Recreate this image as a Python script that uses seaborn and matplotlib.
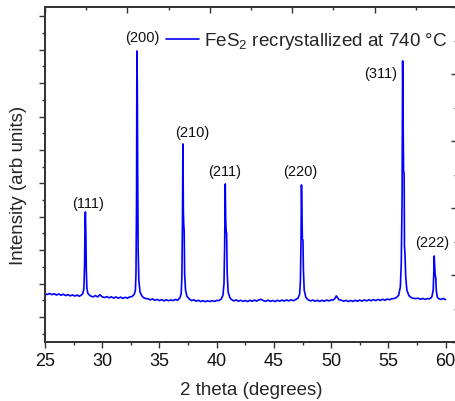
import matplotlib
matplotlib.use("Agg")
import matplotlib.pyplot as plt
from matplotlib.ticker import MultipleLocator, NullFormatter
import seaborn as sns

sns.set_style("ticks")
plt.rcParams["font.family"] = ["Liberation Sans", "DejaVu Sans"]
plt.rcParams["mathtext.fontset"] = "custom"
plt.rcParams["mathtext.rm"] = "Liberation Sans"
plt.rcParams["mathtext.it"] = "Liberation Sans:italic"

# ------------------------------------------------------
# Data
# ------------------------------------------------------

two_theta = [
    25.0, 25.2, 25.4, 25.6, 25.8, 26.0, 26.2, 26.4, 26.6, 26.8, 27.0, 27.2, 27.4, 27.6, 27.8, 28.0, 28.2,
    28.3, 28.4, 28.46, 28.5, 28.53, 28.57, 28.61, 28.66, 28.75, 28.9,
    29.0, 29.2, 29.4, 29.6, 29.8, 29.9, 30.0, 30.2, 30.4, 30.6, 30.8, 31.0, 31.2, 31.4, 31.6, 31.8,
    32.0, 32.2, 32.4, 32.6, 32.8,
    32.9, 32.95, 33.0, 33.03, 33.07, 33.1, 33.14, 33.2, 33.3, 33.45,
    33.6, 33.8, 34.0, 34.2, 34.4, 34.6, 34.8, 35.0, 35.2, 35.4, 35.6, 35.8, 36.0, 36.2, 36.4, 36.6, 36.8,
    36.9, 36.96, 37.01, 37.05, 37.09, 37.12, 37.16, 37.2, 37.28, 37.4,
    37.6, 37.8, 38.0, 38.2, 38.4, 38.6, 38.8, 39.0, 39.2, 39.4, 39.6, 39.8, 40.0, 40.2, 40.4, 40.55,
    40.64, 40.7, 40.75, 40.79, 40.83, 40.87, 40.92, 41.0, 41.15,
    41.3, 41.5, 41.7, 41.9, 42.1, 42.3, 42.5, 42.7, 42.9, 43.1, 43.3, 43.5, 43.7, 43.9, 44.1, 44.3,
    44.5, 44.7, 44.9, 45.1, 45.3, 45.5, 45.7, 45.9, 46.1, 46.3, 46.5, 46.7, 46.9, 47.1, 47.25,
    47.32, 47.37, 47.41, 47.45, 47.49, 47.54, 47.58, 47.65, 47.8,
    48.0, 48.2, 48.4, 48.6, 48.8, 49.0, 49.2, 49.4, 49.6, 49.8, 50.0, 50.2, 50.35, 50.45, 50.55, 50.7,
    50.9, 51.1, 51.3, 51.5, 51.7, 51.9, 52.1, 52.3, 52.5, 52.7, 52.9, 53.1, 53.3, 53.5, 53.7, 53.9,
    54.1, 54.3, 54.5, 54.7, 54.9, 55.1, 55.3, 55.5, 55.7, 55.9, 56.05,
    56.13, 56.2, 56.25, 56.29, 56.33, 56.38, 56.41, 56.45, 56.52, 56.62, 56.8,
    57.0, 57.2, 57.4, 57.6, 57.8, 58.0, 58.2, 58.4, 58.6, 58.8,
    58.92, 58.97, 59.01, 59.05, 59.1, 59.14, 59.19, 59.27,
    59.4, 59.6, 59.8, 60.0,
]

intensity = [
    1700, 1670, 1705, 1665, 1695, 1655, 1690, 1650, 1680, 1640, 1670, 1630, 1660, 1625, 1655, 1620, 1660,
    1700, 1850, 2600, 3900, 4144, 3500, 2400, 1850, 1700, 1650,
    1625, 1600, 1640, 1600, 1665, 1635, 1600, 1580, 1610, 1570, 1605, 1565, 1600, 1560, 1595, 1555,
    1590, 1560, 1600, 1610, 1680,
    1800, 2300, 4500, 8964, 7800, 5200, 3000, 2100, 1750, 1640,
    1580, 1550, 1545, 1510, 1540, 1500, 1525, 1490, 1520, 1480, 1515, 1485, 1510, 1490, 1525, 1500, 1580,
    1700, 2200, 3800, 6180, 4200, 3784, 3600, 2300, 1800, 1620,
    1540, 1490, 1515, 1470, 1500, 1460, 1490, 1455, 1485, 1460, 1490, 1465, 1495, 1490, 1540, 1650,
    2000, 3200, 4982, 3900, 3575, 3500, 2300, 1750, 1580,
    1520, 1480, 1510, 1470, 1500, 1465, 1495, 1460, 1500, 1470, 1505, 1475, 1515, 1525, 1485, 1470,
    1505, 1465, 1495, 1460, 1500, 1470, 1505, 1475, 1510, 1480, 1515, 1485, 1520, 1560, 1680,
    2100, 3300, 4952, 4200, 3335, 3300, 2400, 1800, 1580,
    1510, 1480, 1505, 1470, 1500, 1465, 1500, 1470, 1505, 1480, 1510, 1510, 1560, 1630, 1580, 1515,
    1500, 1470, 1500, 1460, 1495, 1465, 1500, 1470, 1505, 1475, 1510, 1480, 1515, 1485, 1520, 1490,
    1525, 1495, 1530, 1500, 1535, 1515, 1545, 1550, 1580, 1650, 1900,
    2600, 4500, 8665, 7000, 5371, 5300, 3126, 2900, 2200, 1800, 1640,
    1580, 1555, 1550, 1560, 1530, 1555, 1525, 1550, 1540, 1600,
    1800, 2300, 2826, 2500, 2228, 2200, 1800, 1600,
    1545, 1525, 1555, 1520,
]

peak_labels = ["(111)", "(200)", "(210)", "(211)", "(220)", "(311)", "(222)"]
label_x = [28.75, 33.47, 37.83, 40.71, 47.34, 54.33, 58.87]
label_y = [4413, 9383, 6539, 5371, 5371, 8305, 3246]

# ------------------------------------------------------
# Plot
# ------------------------------------------------------

fig = plt.figure(figsize=(4.56, 4.02), dpi=100)
ax = fig.add_axes([45 / 456, 1 - 343 / 402, 412 / 456, 335 / 402])

sns.lineplot(
    x=two_theta,
    y=intensity,
    ax=ax,
    color="#0000ff",
    lw=1.2,
    sort=False,
    label="FeS$_2$ recrystallized at 740 °C",
)

for lab, lx, ly in zip(peak_labels, label_x, label_y):
    ax.text(lx, ly, lab, ha="center", va="center", fontsize=10.5, color="#111111")

ax.set_xlim(25, 61)
ax.set_ylim(250, 10280)
ax.xaxis.set_major_locator(MultipleLocator(5))
ax.xaxis.set_minor_locator(MultipleLocator(2.5))
ax.yaxis.set_major_locator(MultipleLocator(1000))
ax.yaxis.set_minor_locator(MultipleLocator(500))
ax.yaxis.set_major_formatter(NullFormatter())
ax.tick_params(axis="both", which="major", direction="out", length=4, width=1,
               color="#333333", labelsize=13, labelcolor="#111111")
ax.tick_params(axis="both", which="minor", direction="out", length=2.4, width=1, color="#333333")
ax.tick_params(axis="x", pad=3)

ax.set_xlabel("2 theta (degrees)", fontsize=13.5, labelpad=9)
ax.set_ylabel("Intensity (arb units)", fontsize=13.5)
ax.yaxis.set_label_coords(-0.044, 0.47)

# top and right ticks on their own scales
ax_top = ax.twiny()
ax_top.set_xlim(0, 10)
ax_top.xaxis.set_major_locator(MultipleLocator(2))
ax_top.xaxis.set_minor_locator(MultipleLocator(1))
ax_top.xaxis.set_major_formatter(NullFormatter())
ax_top.tick_params(axis="x", which="major", direction="in", length=4, width=1, color="#333333")
ax_top.tick_params(axis="x", which="minor", direction="in", length=2.4, width=1, color="#333333")

ax_right = ax.twinx()
ax_right.set_ylim(0, 5)
ax_right.yaxis.set_major_locator(MultipleLocator(1))
ax_right.yaxis.set_minor_locator(MultipleLocator(0.5))
ax_right.yaxis.set_major_formatter(NullFormatter())
ax_right.tick_params(axis="y", which="major", direction="in", length=4, width=1, color="#333333")
ax_right.tick_params(axis="y", which="minor", direction="in", length=2, width=1, color="#333333")

for a in (ax, ax_top, ax_right):
    for s in a.spines.values():
        s.set_color("#333333")
        s.set_linewidth(1.1)

ax.legend(
    loc="center left",
    bbox_to_anchor=((166 - 45) / 412, 1 - (42 - 8) / 335),
    frameon=False,
    fontsize=13.6,
    borderpad=0,
    borderaxespad=0,
    handlelength=1.75,
    handletextpad=0.25,
)

fig.savefig("out.png", dpi=100)
